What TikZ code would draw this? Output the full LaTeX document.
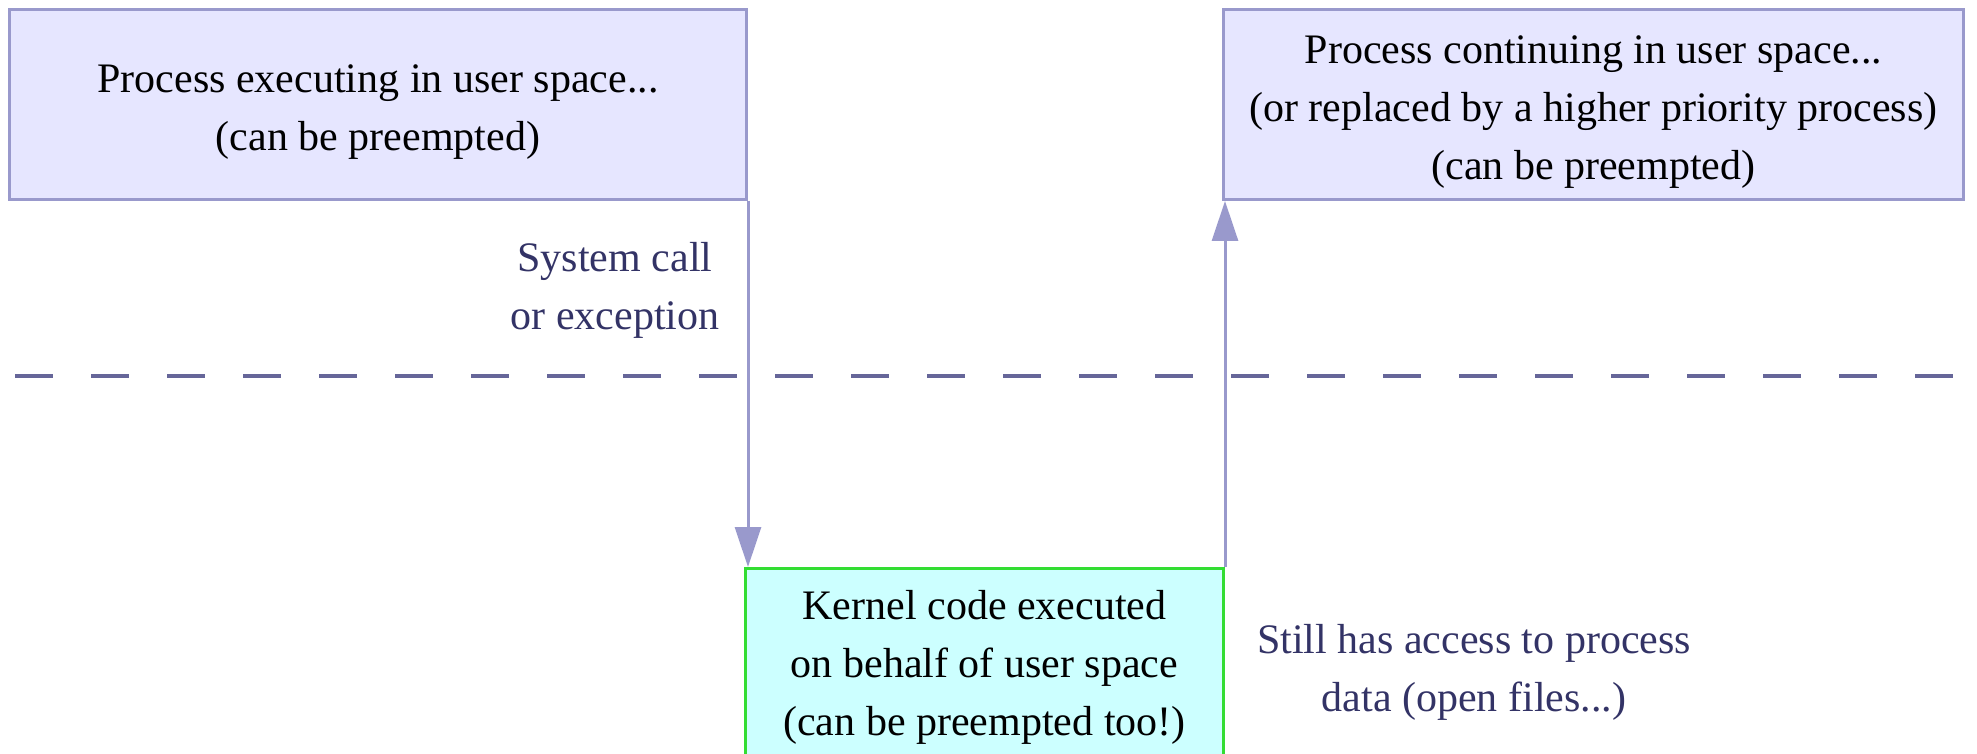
\documentclass[tikz,border=0pt]{standalone}
\usepackage{fontspec}
\setmainfont{Liberation Serif}
\usepackage{tikz}
\usetikzlibrary{arrows.meta,positioning}

\definecolor{userfill}{HTML}{E6E6FF}
\definecolor{userdraw}{HTML}{9999CC}
\definecolor{kernfill}{HTML}{CCFFFF}
\definecolor{kerndraw}{HTML}{33DD33}
\definecolor{notetext}{HTML}{333366}
\definecolor{borderline}{HTML}{666699}

\tikzset{
    userbox/.style={draw=userdraw, fill=userfill, line width=1.5pt,
        minimum height=95pt, inner sep=0pt, anchor=north west},
    boxtext/.style={align=center, inner sep=0pt, yshift=-4pt},
    kernbox/.style={draw=kerndraw, fill=kernfill, line width=1.5pt, align=center,
        minimum width=239pt, minimum height=99pt, inner sep=0pt, anchor=north west},
    note/.style={text=notetext, align=center, inner sep=0pt},
    flow/.style={draw=userdraw, line width=1.5pt, -{Triangle[length=20pt, width=13pt]}},
}

\begin{document}
\begin{tikzpicture}[x=0.5pt, y=-0.5pt, font=\fontsize{21}{29}\selectfont]
    \useasboundingbox (0,0) rectangle (1977,754);

    % user / kernel border
    \coordinate (bl) at (15,376);
    \coordinate (br) at (1977,376);
    \draw [borderline, line width=1.85pt, dash pattern=on 19pt off 19pt] (bl) -- (br);

    \begin{scope}
        \clip (0,0) rectangle (1977,754);
        \node [kernbox] (kernel) at (744,567) {Kernel code executed\\on behalf of user space\\(can be preempted too!)};
    \end{scope}

    \node [userbox, minimum width=368.5pt,
        label={[boxtext, name=usertext]center:{Process executing in user space...\\(can be preempted)}}] (user) at (8,8) {};
    \node [userbox, minimum width=370pt,
        label={[boxtext, name=conttext]center:{Process continuing in user space...\\(or replaced by a higher priority process)\\(can be preempted)}}] (cont) at (1222,8) {};

    \node [note] (syscall) at (615,290) {System call\\or exception};
    \node [note] (access) at (1474,672) {Still has access to process\\data (open files...)};

    \draw [flow] (user.south east) -- (user.south east |- kernel.north);
    \draw [flow] (kernel.north east) -- (kernel.north east |- cont.south);
\end{tikzpicture}
\end{document}
